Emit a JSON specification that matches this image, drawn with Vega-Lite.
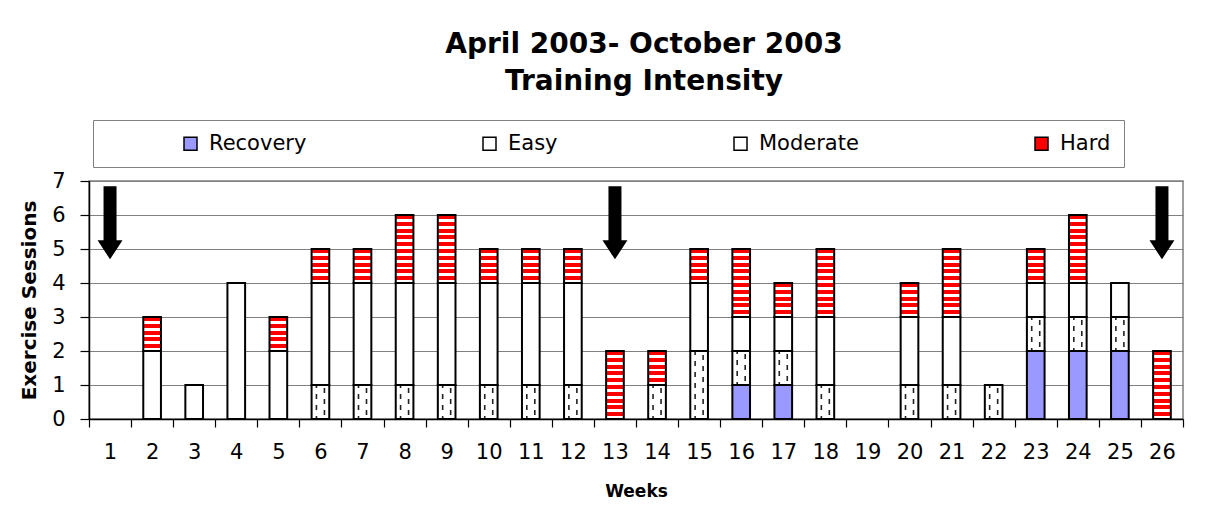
{
  "$schema": "https://vega.github.io/schema/vega-lite/v6.json",
  "autosize": "none",
  "padding": {"left": 89, "top": 181, "right": 37, "bottom": 88},
  "width": 1094,
  "height": 238,
  "config": {
    "font": "DejaVu Sans",
    "view": {"stroke": "#808080", "strokeWidth": 1.5},
    "axis": {"domainColor": "black", "domainWidth": 1.5, "tickColor": "black", "tickWidth": 1.2, "labelColor": "black", "titleColor": "black", "labelFont": "DejaVu Sans", "titleFont": "DejaVu Sans"},
    "axisY": {"tickCount": 10, "labelOverlap": false}
  },
  "title": {
    "text": ["April 2003- October 2003", "Training Intensity"],
    "font": "DejaVu Sans",
    "fontSize": 28,
    "fontWeight": "bold",
    "color": "black",
    "anchor": "middle",
    "frame": "group",
    "dx": 8,
    "lineHeight": 37,
    "offset": 24
  },
  "layer": [
    {
      "data": {
        "values": [
          {"week": 2, "type": "Moderate", "count": 2}, {"week": 2, "type": "Hard", "count": 1},
          {"week": 3, "type": "Moderate", "count": 1},
          {"week": 4, "type": "Moderate", "count": 4},
          {"week": 5, "type": "Moderate", "count": 2}, {"week": 5, "type": "Hard", "count": 1},
          {"week": 6, "type": "Easy", "count": 1}, {"week": 6, "type": "Moderate", "count": 3}, {"week": 6, "type": "Hard", "count": 1},
          {"week": 7, "type": "Easy", "count": 1}, {"week": 7, "type": "Moderate", "count": 3}, {"week": 7, "type": "Hard", "count": 1},
          {"week": 8, "type": "Easy", "count": 1}, {"week": 8, "type": "Moderate", "count": 3}, {"week": 8, "type": "Hard", "count": 2},
          {"week": 9, "type": "Easy", "count": 1}, {"week": 9, "type": "Moderate", "count": 3}, {"week": 9, "type": "Hard", "count": 2},
          {"week": 10, "type": "Easy", "count": 1}, {"week": 10, "type": "Moderate", "count": 3}, {"week": 10, "type": "Hard", "count": 1},
          {"week": 11, "type": "Easy", "count": 1}, {"week": 11, "type": "Moderate", "count": 3}, {"week": 11, "type": "Hard", "count": 1},
          {"week": 12, "type": "Easy", "count": 1}, {"week": 12, "type": "Moderate", "count": 3}, {"week": 12, "type": "Hard", "count": 1},
          {"week": 13, "type": "Hard", "count": 2},
          {"week": 14, "type": "Easy", "count": 1}, {"week": 14, "type": "Hard", "count": 1},
          {"week": 15, "type": "Easy", "count": 2}, {"week": 15, "type": "Moderate", "count": 2}, {"week": 15, "type": "Hard", "count": 1},
          {"week": 16, "type": "Recovery", "count": 1}, {"week": 16, "type": "Easy", "count": 1}, {"week": 16, "type": "Moderate", "count": 1}, {"week": 16, "type": "Hard", "count": 2},
          {"week": 17, "type": "Recovery", "count": 1}, {"week": 17, "type": "Easy", "count": 1}, {"week": 17, "type": "Moderate", "count": 1}, {"week": 17, "type": "Hard", "count": 1},
          {"week": 18, "type": "Easy", "count": 1}, {"week": 18, "type": "Moderate", "count": 2}, {"week": 18, "type": "Hard", "count": 2},
          {"week": 20, "type": "Easy", "count": 1}, {"week": 20, "type": "Moderate", "count": 2}, {"week": 20, "type": "Hard", "count": 1},
          {"week": 21, "type": "Easy", "count": 1}, {"week": 21, "type": "Moderate", "count": 2}, {"week": 21, "type": "Hard", "count": 2},
          {"week": 22, "type": "Easy", "count": 1},
          {"week": 23, "type": "Recovery", "count": 2}, {"week": 23, "type": "Easy", "count": 1}, {"week": 23, "type": "Moderate", "count": 1}, {"week": 23, "type": "Hard", "count": 1},
          {"week": 24, "type": "Recovery", "count": 2}, {"week": 24, "type": "Easy", "count": 1}, {"week": 24, "type": "Moderate", "count": 1}, {"week": 24, "type": "Hard", "count": 2},
          {"week": 25, "type": "Recovery", "count": 2}, {"week": 25, "type": "Easy", "count": 1}, {"week": 25, "type": "Moderate", "count": 1},
          {"week": 26, "type": "Hard", "count": 2}
        ]
      },
      "transform": [
        {"calculate": "indexof(['Recovery','Easy','Moderate','Hard'], datum.type)", "as": "level"},
        {"stack": "count", "groupby": ["week"], "sort": [{"field": "level", "order": "ascending"}], "as": ["y0", "y1"]}
      ],
      "encoding": {
        "x": {
          "field": "week", "type": "ordinal",
          "scale": {"domain": [1,2,3,4,5,6,7,8,9,10,11,12,13,14,15,16,17,18,19,20,21,22,23,24,25,26], "paddingInner": 0, "paddingOuter": 0},
          "axis": {"title": "Weeks", "titleFontSize": 17, "titleFontWeight": "bold", "titlePadding": 21, "labelAngle": 0, "labelFontSize": 21, "labelPadding": 14, "tickSize": 8, "tickBand": "extent", "grid": false}
        },
        "y": {
          "field": "y0", "type": "quantitative",
          "scale": {"domain": [0, 7], "nice": false},
          "axis": {"title": "Exercise Sessions", "titleFontSize": 20, "titleFontWeight": "bold", "titlePadding": 12, "labelFontSize": 21, "labelPadding": 15, "labelOverlap": false, "format": "d", "tickSize": 9, "tickCount": 10, "values": [0, 1, 2, 3, 4, 5, 6, 7], "grid": true, "gridColor": "#808080", "gridWidth": 1, "gridOpacity": 1}
        },
        "y2": {"field": "y1"}
      },
      "layer": [
        {
          "mark": {"type": "bar", "width": {"band": 0.42}},
          "encoding": {
            "fill": {
              "field": "type", "type": "nominal",
              "scale": {"domain": ["Recovery", "Easy", "Moderate", "Hard"], "range": ["#9999FF", "#FFFFFF", "#FFFFFF", "#FF0000"]},
              "legend": {
                "orient": "none", "legendX": 4, "legendY": -61,
                "direction": "horizontal", "columns": 4, "columnPadding": 172,
                "title": " ", "titleOrient": "left", "titlePadding": 74, "titleFontSize": 8,
                "padding": 13, "strokeColor": "#808080", "fillColor": "white",
                "symbolType": "square", "symbolSize": 169, "symbolStrokeColor": "black", "symbolStrokeWidth": 1.5,
                "labelFontSize": 21, "labelFont": "DejaVu Sans", "labelColor": "black", "labelOffset": 8,
                "labelExpr": "datum.label == 'Hard' ? 'Hard   ' : datum.label"
              }
            }
          }
        },
        {
          "transform": [{"filter": "datum.type === 'Hard' && datum.count === 1"}],
          "mark": {
            "type": "bar", "width": {"band": 0.42},
            "fill": {"gradient": "linear", "x1": 0, "y1": 0, "x2": 0, "y2": 1, "stops": [
              {"offset": 0, "color": "#FF0000"}, {"offset": 0.12, "color": "#FF0000"}, {"offset": 0.12, "color": "#FFFFFF"}, {"offset": 0.2, "color": "#FFFFFF"},
              {"offset": 0.2, "color": "#FF0000"}, {"offset": 0.32, "color": "#FF0000"}, {"offset": 0.32, "color": "#FFFFFF"}, {"offset": 0.4, "color": "#FFFFFF"},
              {"offset": 0.4, "color": "#FF0000"}, {"offset": 0.52, "color": "#FF0000"}, {"offset": 0.52, "color": "#FFFFFF"}, {"offset": 0.6, "color": "#FFFFFF"},
              {"offset": 0.6, "color": "#FF0000"}, {"offset": 0.72, "color": "#FF0000"}, {"offset": 0.72, "color": "#FFFFFF"}, {"offset": 0.8, "color": "#FFFFFF"},
              {"offset": 0.8, "color": "#FF0000"}, {"offset": 0.92, "color": "#FF0000"}, {"offset": 0.92, "color": "#FFFFFF"}, {"offset": 1, "color": "#FFFFFF"}
            ]}
          }
        },
        {
          "transform": [{"filter": "datum.type === 'Hard' && datum.count === 2"}],
          "mark": {
            "type": "bar", "width": {"band": 0.42},
            "fill": {"gradient": "linear", "x1": 0, "y1": 0, "x2": 0, "y2": 1, "stops": [
              {"offset": 0, "color": "#FF0000"}, {"offset": 0.06, "color": "#FF0000"}, {"offset": 0.06, "color": "#FFFFFF"}, {"offset": 0.1, "color": "#FFFFFF"},
              {"offset": 0.1, "color": "#FF0000"}, {"offset": 0.16, "color": "#FF0000"}, {"offset": 0.16, "color": "#FFFFFF"}, {"offset": 0.2, "color": "#FFFFFF"},
              {"offset": 0.2, "color": "#FF0000"}, {"offset": 0.26, "color": "#FF0000"}, {"offset": 0.26, "color": "#FFFFFF"}, {"offset": 0.3, "color": "#FFFFFF"},
              {"offset": 0.3, "color": "#FF0000"}, {"offset": 0.36, "color": "#FF0000"}, {"offset": 0.36, "color": "#FFFFFF"}, {"offset": 0.4, "color": "#FFFFFF"},
              {"offset": 0.4, "color": "#FF0000"}, {"offset": 0.46, "color": "#FF0000"}, {"offset": 0.46, "color": "#FFFFFF"}, {"offset": 0.5, "color": "#FFFFFF"},
              {"offset": 0.5, "color": "#FF0000"}, {"offset": 0.56, "color": "#FF0000"}, {"offset": 0.56, "color": "#FFFFFF"}, {"offset": 0.6, "color": "#FFFFFF"},
              {"offset": 0.6, "color": "#FF0000"}, {"offset": 0.66, "color": "#FF0000"}, {"offset": 0.66, "color": "#FFFFFF"}, {"offset": 0.7, "color": "#FFFFFF"},
              {"offset": 0.7, "color": "#FF0000"}, {"offset": 0.76, "color": "#FF0000"}, {"offset": 0.76, "color": "#FFFFFF"}, {"offset": 0.8, "color": "#FFFFFF"},
              {"offset": 0.8, "color": "#FF0000"}, {"offset": 0.86, "color": "#FF0000"}, {"offset": 0.86, "color": "#FFFFFF"}, {"offset": 0.9, "color": "#FFFFFF"},
              {"offset": 0.9, "color": "#FF0000"}, {"offset": 0.96, "color": "#FF0000"}, {"offset": 0.96, "color": "#FFFFFF"}, {"offset": 1, "color": "#FFFFFF"}
            ]}
          }
        },
        {
          "transform": [{"filter": "datum.type === 'Easy'"}],
          "mark": {"type": "rule", "xOffset": -4, "stroke": "#222222", "strokeWidth": 1.6, "strokeDash": [5, 6], "strokeDashOffset": 2}
        },
        {
          "transform": [{"filter": "datum.type === 'Easy'"}],
          "mark": {"type": "rule", "xOffset": 4, "stroke": "#222222", "strokeWidth": 1.6, "strokeDash": [5, 6], "strokeDashOffset": 7}
        },
        {
          "mark": {"type": "bar", "width": {"band": 0.42}, "fill": "transparent", "stroke": "black", "strokeWidth": 2}
        }
      ]
    },
    {
      "data": {"values": [{"week": 1}, {"week": 13}, {"week": 26}]},
      "mark": {
        "type": "point", "filled": true, "color": "black", "opacity": 1, "size": 5329,
        "shape": "M-0.178,-1L0.178,-1L0.178,0.479L0.342,0.479L0,1L-0.342,0.479L-0.178,0.479Z"
      },
      "encoding": {
        "x": {"field": "week", "type": "ordinal"},
        "y": {"datum": 5.77, "type": "quantitative"}
      }
    }
  ]
}
